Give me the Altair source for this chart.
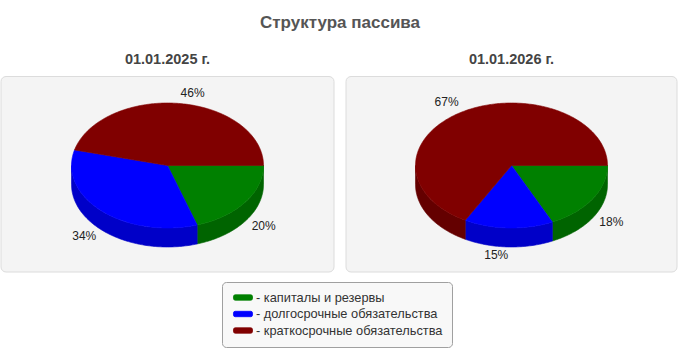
import numpy as np
import pandas as pd
import altair as alt

# ---------------- data ----------------
chart_title = "Структура пассива"
dates = ["01.01.2025 г.", "01.01.2026 г."]
categories = ["капиталы и резервы", "долгосрочные обязательства", "краткосрочные обязательства"]
values_2025 = [20, 34, 46]
values_2026 = [18, 15, 67]
colors = ["#008000", "#0000FF", "#800000"]
side_colors = ["#006400", "#0000C8", "#640000"]

# ---------------- layout ----------------
W, H = 680, 350
panel_x0 = [1, 346]
panel_x1 = [334, 677]
panel_y0, panel_y1 = 76.5, 272
pie_cy = 165.5
pie_rx, pie_ry, pie_depth = 96, 62.5, 19
label_gap_front, label_gap_back = 8, 11
FONT = "Liberation Sans"

tops, sides, labels = [], [], []
for p, vals in enumerate([values_2025, values_2026]):
    cx = (panel_x0[p] + panel_x1[p]) / 2
    total = sum(vals)
    a0 = 0.0
    for i, v in enumerate(vals):
        a1 = a0 + 2 * np.pi * v / total
        n = max(int(np.degrees(a1 - a0)), 2)
        angs = np.linspace(a0, a1, n + 1)
        pts = [(cx, pie_cy)] + [(cx + pie_rx * np.cos(a), pie_cy + pie_ry * np.sin(a)) for a in angs]
        for k, (x, y) in enumerate(pts):
            tops.append(dict(poly=f"t{p}{i}", idx=k, x=x, y=y, category=categories[i]))
        s0, s1 = max(a0, 0.0), min(a1, np.pi)
        if s1 > s0:
            m = max(int(np.degrees(s1 - s0)), 2)
            sa = np.linspace(s0, s1, m + 1)
            spts = [(cx + pie_rx * np.cos(a), pie_cy + pie_ry * np.sin(a)) for a in sa]
            spts += [(cx + pie_rx * np.cos(a), pie_cy + pie_ry * np.sin(a) + pie_depth) for a in sa[::-1]]
            for k, (x, y) in enumerate(spts):
                sides.append(dict(poly=f"s{p}{i}", idx=k, x=x, y=y, col=side_colors[i]))
        mid = (a0 + a1) / 2
        c, s = np.cos(mid), np.sin(mid)
        g = label_gap_front if s > 0 else label_gap_back
        lx = cx + c * (pie_rx + label_gap_front)
        ly = pie_cy + s * (pie_ry + g) + (pie_depth if s > 0 else 0)
        labels.append(dict(x=lx, y=ly, text=f"{round(100 * v / total)}%",
                           side="left" if c >= 0 else "right"))
        a0 = a1

tops = pd.DataFrame(tops)
sides = pd.DataFrame(sides)
labels = pd.DataFrame(labels)
panels = pd.DataFrame(dict(x=panel_x0, x2=panel_x1, y=[panel_y0] * 2, y2=[panel_y1] * 2))
heads = pd.DataFrame(dict(x=[(a + b) / 2 for a, b in zip(panel_x0, panel_x1)], y=[60, 60], text=dates))
main_title = pd.DataFrame(dict(x=[W / 2], y=[23], text=[chart_title]))

xs = alt.Scale(domain=[0, W], nice=False, zero=False)
ys = alt.Scale(domain=[H, 0], nice=False, zero=False)
X = lambda f="x": alt.X(f"{f}:Q", scale=xs, axis=None)
Y = lambda f="y": alt.Y(f"{f}:Q", scale=ys, axis=None)

panel_layer = alt.Chart(panels).mark_rect(
    fill="#f4f4f4", stroke="#dcdcdc", strokeWidth=1, cornerRadius=5
).encode(x=X(), x2="x2:Q", y=Y(), y2="y2:Q")

side_layer = alt.Chart(sides).mark_line(interpolate="linear-closed", strokeWidth=0.6).encode(
    x=X(), y=Y(), detail="poly:N", order="idx:Q",
    fill=alt.Fill("col:N", scale=None, legend=None),
    stroke=alt.Stroke("col:N", scale=None, legend=None),
)

swatch = ("M-0.37,-0.45 L2.2,-0.45 Q2.5,-0.45 2.5,-0.15 L2.5,0.15 Q2.5,0.45 2.2,0.45 "
          "L-0.37,0.45 Q-0.67,0.45 -0.67,0.15 L-0.67,-0.15 Q-0.67,-0.45 -0.37,-0.45 Z")

top_layer = alt.Chart(tops).mark_line(interpolate="linear-closed", strokeWidth=0.6).encode(
    x=X(), y=Y(), detail="poly:N", order="idx:Q",
    fill=alt.Fill("category:N", scale=alt.Scale(domain=categories, range=colors),
                  legend=alt.Legend(
                      title=None, orient="none", legendX=222, legendY=282, padding=9,
                      strokeColor="#a0a0a0", fillColor="#f8f8f8", cornerRadius=4,
                      symbolType=swatch, symbolSize=144, symbolStrokeColor="#909090",
                      symbolStrokeWidth=0.8, symbolOpacity=1,
                      labelFont=FONT, labelFontSize=12.8, labelColor="#333333",
                      labelOffset=12, rowPadding=2.5, labelLimit=400,
                      labelExpr="'- ' + datum.label")),
    stroke=alt.Stroke("category:N", scale=alt.Scale(domain=categories, range=colors), legend=None),
)

lab_left = alt.Chart(labels).transform_filter("datum.side == 'left'").mark_text(
    align="left", baseline="middle", font=FONT, fontSize=12, color="#222222"
).encode(x=X(), y=Y(), text="text:N")
lab_right = alt.Chart(labels).transform_filter("datum.side == 'right'").mark_text(
    align="right", baseline="middle", font=FONT, fontSize=12, color="#222222"
).encode(x=X(), y=Y(), text="text:N")

head_layer = alt.Chart(heads).mark_text(
    align="center", baseline="middle", font=FONT, fontSize=14.5, fontWeight="bold", color="#444444"
).encode(x=X(), y=Y(), text="text:N")
title_layer = alt.Chart(main_title).mark_text(
    align="center", baseline="middle", font=FONT, fontSize=17, fontWeight="bold", color="#555555"
).encode(x=X(), y=Y(), text="text:N")

chart = alt.layer(
    panel_layer, side_layer, top_layer, lab_left, lab_right, head_layer, title_layer
).resolve_scale(fill="independent", stroke="independent").properties(
    width=W, height=H, autosize=alt.AutoSizeParams(type="none"), padding=0, background="white"
).configure_view(stroke=None)

chart.save("out.html", embed_options={"renderer": "svg", "actions": False})
